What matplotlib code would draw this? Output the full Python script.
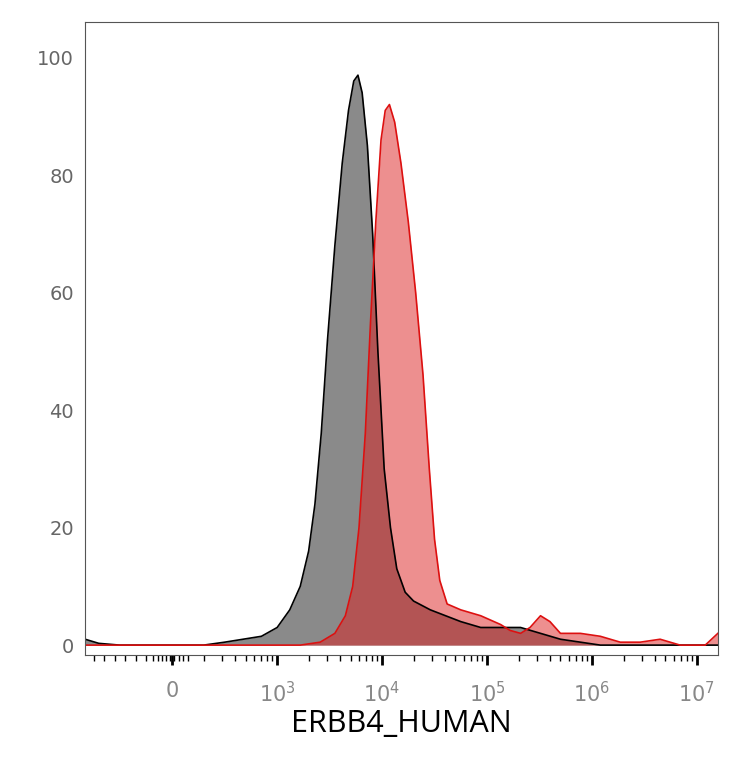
import numpy as np
import matplotlib
matplotlib.use("Agg")
import matplotlib.pyplot as plt

# positions in "decade" units (log10 of intensity), 2.0 == 0
gray_x = [1.17,1.3,1.5,2.0,2.3,2.5,2.85,3.0,3.12,3.22,3.30,3.36,3.42,3.48,3.55,3.62,3.68,3.73,3.77,3.81,3.86,3.91,3.96,4.02,4.08,4.14,4.22,4.30,4.46,4.75,4.94,5.13,5.32,5.51,5.70,5.89,6.08,7.2]
gray_y = [1,0.3,0,0,0,0.5,1.5,3,6,10,16,24,36,52,68,82,91,96,97,94,85,70,50,30,20,13,9,7.5,6,4,3,3,3,2,1,0.5,0,0]
red_x = [1.17,2.5,3.22,3.41,3.55,3.65,3.72,3.78,3.84,3.89,3.94,3.99,4.03,4.07,4.12,4.18,4.25,4.32,4.39,4.45,4.50,4.55,4.62,4.75,4.94,5.13,5.22,5.32,5.41,5.51,5.60,5.70,5.89,6.08,6.27,6.46,6.65,6.84,7.08,7.2]
red_y = [0,0,0,0.5,2,5,10,20,36,55,72,86,91,92,89,82,72,60,46,30,18,11,7,6,5,3.5,2.5,2,3,5,4,2,2,1.5,0.5,0.5,1,0,0,2]
xlabel = "ERBB4_HUMAN"

fig = plt.figure(figsize=(7.34, 7.68), dpi=100)
ax = fig.add_axes([0.116, 0.147, 0.862, 0.824])
ax.fill_between(gray_x, gray_y, color="#8a8a8a", lw=0)
ax.plot(gray_x, gray_y, color="black", lw=1.2)
ax.fill_between(red_x, red_y, color="#dd2020", alpha=0.5, lw=0)
ax.plot(red_x, red_y, color="#dd1010", lw=1.2)

ax.set_xlim(1.17, 7.2)
ax.set_ylim(-1.7, 106)
ax.set_yticks([0, 20, 40, 60, 80, 100])
ax.tick_params(axis="y", length=0, labelsize=14, labelcolor="#666666", pad=8)

major = [3, 4, 5, 6, 7]
ax.set_xticks([2] + major)
ax.set_xticklabels(["0"] + [f"$10^{{{d}}}$" for d in major])
ax.tick_params(axis="x", which="major", length=7, width=2, labelsize=15, labelcolor="#888888", pad=12, direction="out")
minor = []
for d in range(2, 7):
    for k in range(2, 10):
        minor.append(d + np.log10(k))
minor += [1.25, 1.35, 1.45, 1.55, 1.65, 1.75, 1.82, 1.86, 1.9, 1.94, 1.98, 2.02, 2.06, 2.1, 2.15]
ax.set_xticks([m for m in minor if m < 7.2], minor=True)
ax.tick_params(axis="x", which="minor", length=4, width=1)
for s in ax.spines.values():
    s.set_color("#555555")
ax.set_xlabel(xlabel, fontsize=22, family="Open Sans", labelpad=2)
fig.savefig("out.png", dpi=100)
